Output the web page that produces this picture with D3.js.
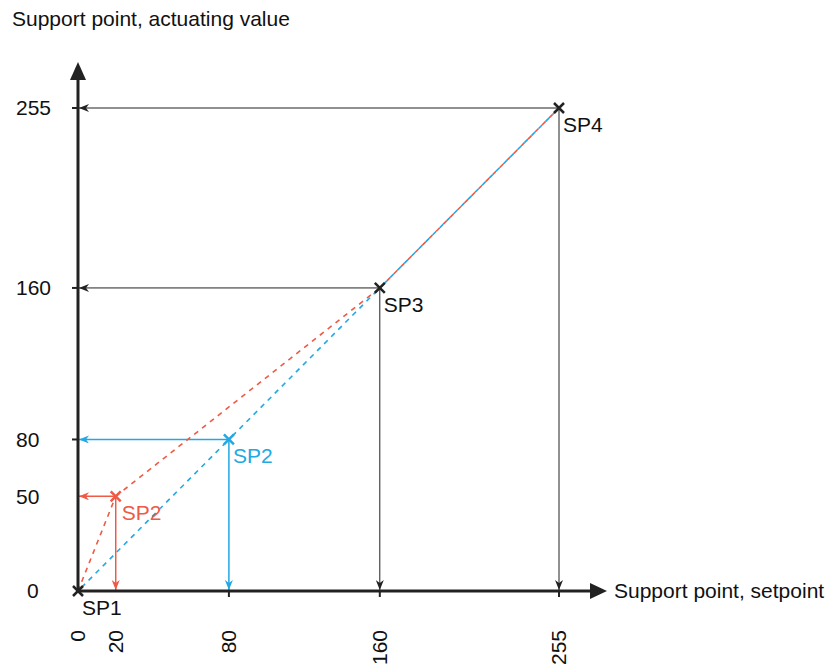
<!DOCTYPE html>
<html>
<head>
<meta charset="utf-8">
<script src="https://cdn.jsdelivr.net/npm/d3@7"></script>
<style>
  body { margin: 0; background: #fff; }
  text { font-family: "Liberation Sans", Arial, sans-serif; }
</style>
</head>
<body>
<svg id="mainsvg" width="831" height="664"></svg>
<script>
// characteristic curves (setpoint -> actuating value)
const redX = [0, 20, 160, 255];
const redY = [0, 50, 160, 255];
const blueX = [0, 80, 160, 255];
const blueY = [0, 80, 160, 255];
const pointNames = ['SP1', 'SP2', 'SP3', 'SP4'];
const xTicks = [0, 20, 80, 160, 255];
const yTicks = [0, 50, 80, 160, 255];
const markTicks = [80, 160, 255];

const svg = d3.select('#mainsvg');
const red = '#ee5a45';
const blue = '#22a8e2';
const dark = '#222';
const fs = 21;

const x = d3.scaleLinear().domain([0, 255]).range([78, 559]);
const y = d3.scaleLinear().domain([0, 255]).range([591, 108]);

const defs = svg.append('defs');
function marker(id, color) {
    defs.append('marker')
        .attr('id', id)
        .attr('viewBox', '0 0 10 8')
        .attr('refX', 10).attr('refY', 4)
        .attr('markerWidth', 10).attr('markerHeight', 8)
        .attr('markerUnits', 'userSpaceOnUse')
        .attr('orient', 'auto')
        .append('path')
        .attr('d', 'M0,0 L10,4 L0,8 L3,4 Z')
        .attr('fill', color);
}
marker('arr-dark', dark);
marker('arr-red', red);
marker('arr-blue', blue);

// build point sets
const red_pts = redX.map((v, i) => ({ x: v, y: redY[i], name: pointNames[i] }));
const blue_pts = blueX.map((v, i) => ({ x: v, y: blueY[i], name: pointNames[i] }));

// guide lines with arrows towards the axes
const guides = [
    { p: red_pts[1], color: red, m: 'arr-red' },
    { p: blue_pts[1], color: blue, m: 'arr-blue' },
    { p: blue_pts[2], color: dark, m: 'arr-dark' },
    { p: blue_pts[3], color: dark, m: 'arr-dark' }
];
const gGuide = svg.append('g');
guides.forEach(d => {
    gGuide.append('line')
        .attr('x1', x(d.p.x)).attr('y1', y(d.p.y))
        .attr('x2', x(0) + 1).attr('y2', y(d.p.y))
        .attr('stroke', d.color)
        .attr('stroke-width', d.color === dark ? 1 : 1.5)
        .attr('marker-end', `url(#${d.m})`);
    gGuide.append('line')
        .attr('x1', x(d.p.x)).attr('y1', y(d.p.y))
        .attr('x2', x(d.p.x)).attr('y2', y(0) - 1)
        .attr('stroke', d.color)
        .attr('stroke-width', d.color === dark ? 1 : 1.5)
        .attr('marker-end', `url(#${d.m})`);
});

// dashed curves, one segment at a time so shared parts interleave
function curve(pts, color, offset) {
    const segs = d3.pairs(pts);
    svg.append('g').selectAll('line').data(segs).enter()
        .append('line')
        .attr('x1', d => x(d[0].x)).attr('y1', d => y(d[0].y))
        .attr('x2', d => x(d[1].x)).attr('y2', d => y(d[1].y))
        .attr('stroke', color)
        .attr('stroke-width', 1.6)
        .attr('stroke-dasharray', '5,5')
        .attr('stroke-dashoffset', offset);
}
curve(red_pts, red, 0);
curve(blue_pts, blue, 5);

// axes
const gAxis = svg.append('g');
gAxis.append('line')
    .attr('x1', x(0)).attr('y1', y(0) + 2)
    .attr('x2', x(0)).attr('y2', 78)
    .attr('stroke', dark).attr('stroke-width', 3);
gAxis.append('path')
    .attr('d', `M${x(0) - 8},80 L${x(0)},62 L${x(0) + 8},80 Z`)
    .attr('fill', dark);
gAxis.append('line')
    .attr('x1', x(0) - 2).attr('y1', y(0))
    .attr('x2', 592).attr('y2', y(0))
    .attr('stroke', dark).attr('stroke-width', 3);
gAxis.append('path')
    .attr('d', `M590,${y(0) - 8} L607,${y(0)} L590,${y(0) + 8} Z`)
    .attr('fill', dark);

// small tick marks
gAxis.selectAll('.ty').data(markTicks).enter()
    .append('line')
    .attr('x1', x(0) - 6).attr('x2', x(0))
    .attr('y1', d => y(d)).attr('y2', d => y(d))
    .attr('stroke', dark).attr('stroke-width', 2);
gAxis.selectAll('.tx').data(markTicks).enter()
    .append('line')
    .attr('x1', d => x(d)).attr('x2', d => x(d))
    .attr('y1', y(0)).attr('y2', y(0) + 6)
    .attr('stroke', dark).attr('stroke-width', 2);

// tick labels
svg.append('g').selectAll('text').data(yTicks).enter()
    .append('text')
    .attr('x', d => d === 0 ? 27 : 16)
    .attr('y', d => y(d))
    .attr('dy', '0.35em')
    .attr('font-size', fs)
    .attr('fill', '#111')
    .text(d => d);
svg.append('g').selectAll('text').data(xTicks).enter()
    .append('text')
    .attr('transform', d => `translate(${x(d)},630) rotate(-90)`)
    .attr('text-anchor', 'end')
    .attr('dy', '0.35em')
    .attr('font-size', fs)
    .attr('fill', '#111')
    .text(d => d);

// axis titles
svg.append('text')
    .attr('x', 12).attr('y', 26)
    .attr('font-size', fs)
    .attr('fill', '#111')
    .text('Support point, actuating value');
svg.append('text')
    .attr('x', 614).attr('y', y(0))
    .attr('dy', '0.35em')
    .attr('font-size', fs)
    .attr('fill', '#111')
    .text('Support point, setpoint');

// support point markers + labels
const points = [
    { p: blue_pts[0], color: dark },
    { p: red_pts[1], color: red },
    { p: blue_pts[1], color: blue },
    { p: blue_pts[2], color: dark },
    { p: blue_pts[3], color: dark }
];
const gPts = svg.append('g');
points.forEach(d => {
    const cx = x(d.p.x), cy = y(d.p.y), s = 5;
    gPts.append('path')
        .attr('d', `M${cx - s},${cy - s} L${cx + s},${cy + s} M${cx - s},${cy + s} L${cx + s},${cy - s}`)
        .attr('stroke', d.color)
        .attr('stroke-width', 2.5);
    gPts.append('text')
        .attr('x', cx + (d.color === red ? 6 : 4)).attr('y', cy + 24)
        .attr('font-size', fs)
        .attr('fill', d.color === dark ? '#111' : d.color)
        .text(d.p.name);
});
</script>
</body>
</html>
